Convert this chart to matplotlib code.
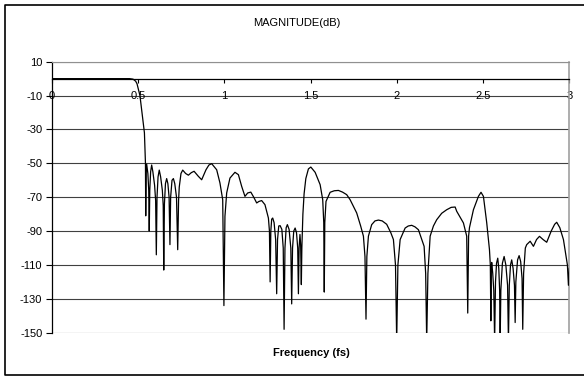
import matplotlib
matplotlib.use('Agg')
from matplotlib import pyplot as plt
from matplotlib.lines import Line2D

# frequency (fs) / magnitude (dB)
freq = [
    0.0, 0.45, 0.47, 0.485, 0.493, 0.51, 0.528, 0.536, 0.542,
    0.5435, 0.546, 0.549, 0.556, 0.561, 0.564, 0.567, 0.572, 0.578,
    0.585, 0.595, 0.601, 0.605, 0.609, 0.615, 0.622, 0.63, 0.64,
    0.645, 0.648, 0.652, 0.658, 0.665, 0.672, 0.679, 0.684, 0.688,
    0.696, 0.704, 0.712, 0.722, 0.729, 0.734, 0.738, 0.748, 0.758,
    0.775, 0.791, 0.808, 0.824, 0.849, 0.868, 0.893, 0.91, 0.926,
    0.955, 0.974, 0.99, 0.997,
    1.003, 1.013, 1.032, 1.061, 1.081, 1.1, 1.119, 1.135, 1.153,
    1.17, 1.187, 1.2, 1.216, 1.235, 1.255, 1.261, 1.265, 1.269,
    1.274, 1.28, 1.288, 1.297, 1.303, 1.308, 1.315, 1.323, 1.333,
    1.341, 1.346, 1.351, 1.358, 1.365, 1.375, 1.385, 1.39, 1.395,
    1.402, 1.41, 1.418, 1.425, 1.429, 1.433, 1.438, 1.442, 1.446,
    1.449, 1.455, 1.462, 1.472, 1.487, 1.501, 1.526, 1.545, 1.555,
    1.57, 1.576, 1.579, 1.582, 1.589, 1.613, 1.637, 1.661, 1.685,
    1.709, 1.729, 1.767, 1.79, 1.806, 1.815, 1.821, 1.826, 1.835,
    1.854, 1.873, 1.893, 1.915, 1.941, 1.965, 1.98, 1.992, 1.999,
    2.006, 2.019, 2.048, 2.066, 2.086, 2.105, 2.125, 2.158, 2.167,
    2.173, 2.18, 2.193, 2.212, 2.231, 2.26, 2.289, 2.315, 2.338,
    2.347, 2.386, 2.405, 2.411, 2.416, 2.421, 2.444, 2.473, 2.488,
    2.502, 2.521, 2.537, 2.542, 2.545, 2.548, 2.55, 2.556, 2.562,
    2.567, 2.572, 2.578, 2.585, 2.591, 2.596, 2.599, 2.603, 2.612,
    2.622, 2.632, 2.642, 2.647, 2.652, 2.659, 2.666, 2.674, 2.682,
    2.686, 2.69, 2.7, 2.709, 2.718, 2.726, 2.73, 2.735, 2.745,
    2.753, 2.773, 2.792, 2.81, 2.827, 2.848, 2.869, 2.895, 2.915,
    2.927, 2.945, 2.966, 2.983, 2.989, 2.995, 3.0,
]
mag = [
    0, 0, -0.3, -1.5, -3, -10, -25, -32, -50,
    -81, -55, -50.5, -56, -66, -90, -66, -55, -51,
    -55, -63, -72, -104, -70, -58, -54, -58, -66,
    -75, -113, -74, -62, -59, -62, -70, -98, -70,
    -60, -59, -62, -70, -101, -72, -64, -56, -54,
    -56, -57, -55.5, -54.7, -57.7, -59.7, -53.8, -51, -50.2,
    -53.8, -61.6, -71.5, -134,
    -81.3, -67.5, -58.7, -55.3, -56.7, -63.6, -69.5, -67.5, -67,
    -70, -73.4, -72.5, -72, -74.4, -82.3, -90, -120, -90,
    -83, -82.3, -85, -95, -127, -95, -87, -86.8, -89,
    -100, -148, -100, -88, -86.2, -89, -100, -133, -100,
    -90, -88.2, -91, -100, -127, -100, -92, -98, -121.6,
    -100, -80, -68, -59, -53.3, -52.2, -55.3, -60, -62.6,
    -71.5, -85, -126, -85, -72.5, -67.1, -66.2, -66, -67,
    -68.5, -71.5, -79.3, -87, -93, -105, -142, -105, -93,
    -86.2, -84, -83.5, -84, -86, -91, -95, -110, -155,
    -110, -95, -88.2, -87, -86.6, -87.5, -89.2, -99, -115,
    -155, -115, -93, -87, -83.3, -79.5, -77.4, -76, -75.8,
    -78.3, -85.2, -93, -138.4, -93, -88, -77.4, -69.5, -67.1,
    -69.5, -85, -101, -110, -143, -112, -108.5, -115, -125,
    -155, -120, -109, -106, -112, -125, -155, -125, -109,
    -105, -110, -122, -155, -122, -110, -107, -112, -122,
    -144, -120, -107, -104.5, -108, -118, -148, -115, -100,
    -98, -96, -99, -95, -93.1, -95, -96.6, -90, -86,
    -84.8, -88, -95, -106, -110, -122, -112,
]

y_ticks = list(range(-150, 11, 20))
x_ticks = [0, 0.5, 1, 1.5, 2, 2.5, 3]
x_tick_labels = ['0', '0.5', '1', '1.5', '2', '2.5', '3']

plt.rcParams['font.family'] = ['Liberation Sans', 'DejaVu Sans']
plt.rcParams['font.size'] = 8

fig = plt.figure(figsize=(5.84, 3.76), dpi=100)
ax = fig.add_axes([52 / 584, 1 - 332.7 / 376, 517.3 / 584, 271 / 376])

ax.set_xlim(0, 3)
ax.set_ylim(-150, 10)

for yv in y_ticks:
    ax.axhline(yv, color='#404040', lw=0.8, zorder=1)

ax.plot(freq, mag, color='black', lw=0.9, zorder=3)

ax.set_yticks(y_ticks)
ax.set_yticklabels([str(v) for v in y_ticks])
ax.set_xticks(x_ticks)
ax.set_xticklabels(x_tick_labels)

ax.spines['bottom'].set_position(('data', 0))
ax.spines['bottom'].set_color('black')
ax.spines['bottom'].set_linewidth(0.9)
ax.spines['left'].set_color('black')
ax.spines['left'].set_linewidth(0.9)
ax.spines['top'].set_color('#909090')
ax.spines['right'].set_color('#a0a0a0')
ax.spines['right'].set_linewidth(1.2)
ax.tick_params(axis='y', direction='out', length=4, width=0.8, pad=3)
ax.tick_params(axis='x', direction='out', length=3, width=0.8, pad=6)

fig.text(297 / 584, 1 - 23.5 / 376, 'MAGNITUDE(dB)', ha='center', va='center')
fig.text(311 / 584, 1 - 353.5 / 376, 'Frequency (fs)', ha='center', va='center',
         fontweight='bold')

# outer chart frame: left, top and bottom only (right edge is cut off in the reference)
left_x = 5.3 / 584
top_y = 1 - 4.5 / 376
bottom_y = 1 - 375 / 376
fig.lines.append(Line2D([1.0, left_x, left_x, 1.0], [top_y, top_y, bottom_y, bottom_y],
                        transform=fig.transFigure, color='black', lw=1.2))

plt.savefig('out.png', dpi=100)
